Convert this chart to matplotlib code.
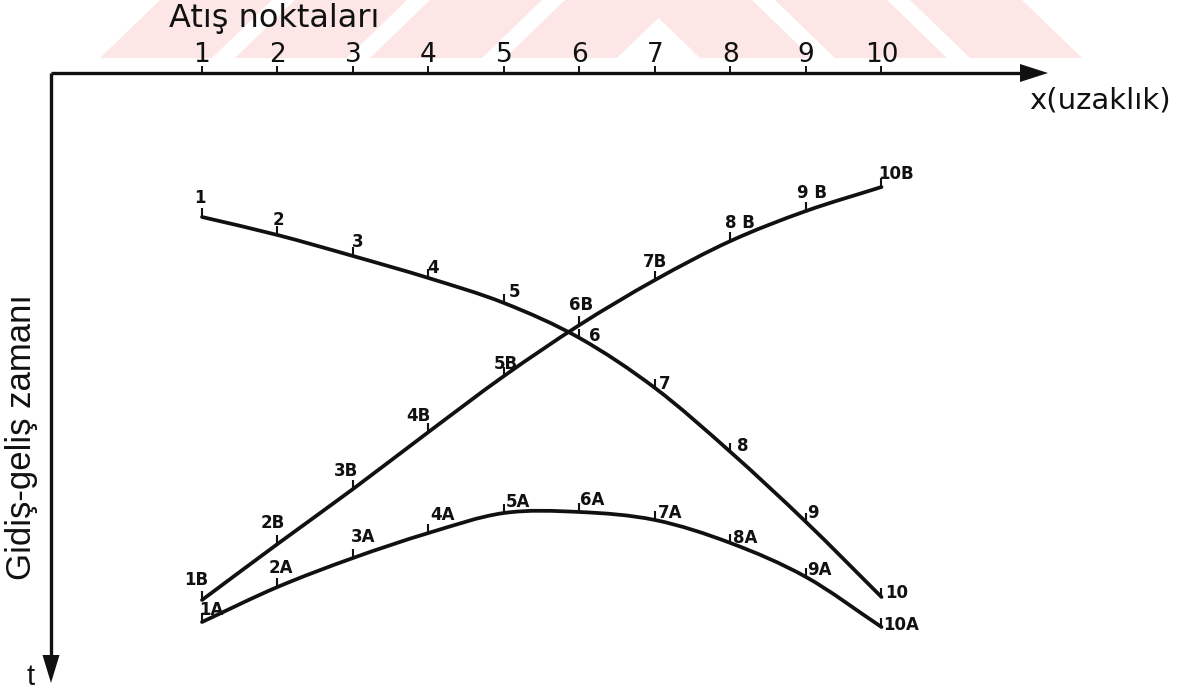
import numpy as np
import matplotlib
matplotlib.use("Agg")
import matplotlib.pyplot as plt
from matplotlib.path import Path
from matplotlib.patches import PathPatch, Polygon
from matplotlib.transforms import IdentityTransform

# Shot points along the profile and two-way travel times
shots = list(range(1, 11))
direct_t = [144, 162, 183, 205, 230, 265, 315, 379, 449, 524]
reverse_t = [527, 471, 416, 359, 303, 252, 207, 168, 138, 114]
sum_t = [549, 514, 485, 460, 440, 439, 447, 470, 504, 554]

direct_labels = [str(s) for s in shots]
reverse_labels = ["1B", "2B", "3B", "4B", "5B", "6B", "7B", "8 B", "9 B", "10B"]
sum_labels = ["1A", "2A", "3A", "4A", "5A", "6A", "7A", "8A", "9A", "10A"]
axis_labels = [str(s) for s in shots]

# label offsets (pixels) from each curve point
direct_off = [(-2, 19), (1, 15), (5, 14), (5, 10), (11, 11), (15, 2), (10, 4), (12, 6), (7, 9), (15, 4)]
reverse_off = [(-6, 20), (-5, 21), (-7, 18), (-10, 16), (2, 12), (2, 20), (0, 18), (9, 18), (6, 18), (15, 13)]
sum_off = [(9, 12), (3, 19), (10, 21), (14, 18), (14, 11), (13, 12), (15, 7), (15, 5), (13, 7), (20, 2)]

W, H = 1186, 690
X0, DX = 202.0, 75.5      # pixel column of shot 1, pixels per shot interval
T0 = 73                   # pixel row of the distance axis

INK = "#111111"
LABEL_FONT = ["DejaVu Sans"]
AXIS_FONT = ["DejaVu Sans"]
TITLE_FONT = ["Liberation Sans", "DejaVu Sans"]

fig = plt.figure(figsize=(W / 100, H / 100), dpi=100)
ax = fig.add_axes([0, 0, 1, 1])
ax.set_axis_off()
ax.set_xlim(1 - X0 / DX, 1 + (W - X0) / DX)
ax.set_ylim(H - T0, -T0)


def px_x(p):
    return 1 + (p - X0) / DX


# faint striped stamp across the top margin
stamp = "#fde6e6"
top, bot = H - 0, H - 58
for b in [100, 235, 370, 505]:
    ax.add_artist(Polygon([(b, bot), (b + 112, bot), (b + 172, top), (b + 60, top)],
                          closed=True, color=stamp, lw=0, transform=IdentityTransform(), zorder=0))
for b in [640, 775, 910]:
    ax.add_artist(Polygon([(b + 60, bot), (b + 172, bot), (b + 112, top), (b, top)],
                          closed=True, color=stamp, lw=0, transform=IdentityTransform(), zorder=0))


def smooth_path(xs, ys):
    p = np.column_stack([xs, ys]).astype(float)
    ext = np.vstack([2 * p[0] - p[1], p, 2 * p[-1] - p[-2]])
    verts = [tuple(p[0])]
    codes = [Path.MOVETO]
    for i in range(1, len(ext) - 2):
        p0, p1, p2, p3 = ext[i - 1], ext[i], ext[i + 1], ext[i + 2]
        c1 = p1 + (p2 - p0) / 6
        c2 = p2 - (p3 - p1) / 6
        verts += [tuple(c1), tuple(c2), tuple(p2)]
        codes += [Path.CURVE4] * 3
    return Path(verts, codes)


# axes drawn as arrows
x_corner = px_x(51)
x_tip = px_x(1048)
ax.plot([x_corner, x_tip - 20 / DX], [0, 0], color=INK, lw=2.4, solid_capstyle="butt", zorder=3)
ax.add_patch(Polygon([(x_tip, 0), (x_tip - 28 / DX, -9), (x_tip - 28 / DX, 9)],
                     closed=True, color=INK, lw=0, zorder=3))
t_tip = 683 - T0
ax.plot([x_corner, x_corner], [0, t_tip - 20], color=INK, lw=2.4, solid_capstyle="butt", zorder=3)
ax.add_patch(Polygon([(x_corner, t_tip), (x_corner - 8.5 / DX, t_tip - 28), (x_corner + 8.5 / DX, t_tip - 28)],
                     closed=True, color=INK, lw=0, zorder=3))

# shot point ticks on the distance axis
ax.vlines(shots, -7, 0, color=INK, lw=1.4, zorder=3)
for s, lab in zip(shots, axis_labels):
    ax.text(s, -18, lab, ha="center", va="center", fontsize=19, color=INK, family=AXIS_FONT)

ax.text(px_x(274), -54, "Atış noktaları", ha="center", va="center", fontsize=23,
        color=INK, family=AXIS_FONT)
ax.text(px_x(1100), 28, "x(uzaklık)", ha="center", va="center", fontsize=21,
        color=INK, family=AXIS_FONT)
ax.text(px_x(31), 604, "t", ha="center", va="center", fontsize=21, color=INK, family=TITLE_FONT)
ax.text(px_x(22), 364, "Gidiş-geliş zamanı", ha="center", va="center", rotation=90,
        fontsize=25, color=INK, family=TITLE_FONT)

# travel-time curves with point ticks and labels
for ts, labels, offs in [(direct_t, direct_labels, direct_off),
                         (reverse_t, reverse_labels, reverse_off),
                         (sum_t, sum_labels, sum_off)]:
    ax.add_patch(PathPatch(smooth_path(shots, ts), fill=False, lw=2.7, edgecolor=INK,
                           capstyle="round", joinstyle="round", zorder=4))
    ax.vlines(shots, np.array(ts) - 9, ts, color=INK, lw=1.5, zorder=4)
    for s, t, lab, off in zip(shots, ts, labels, offs):
        ax.annotate(lab, (s, t), xytext=off, textcoords="offset pixels",
                    ha="center", va="center", fontsize=12, fontweight="bold", color=INK,
                    family=LABEL_FONT, zorder=5)

fig.savefig("out.png", dpi=100, facecolor="white")
